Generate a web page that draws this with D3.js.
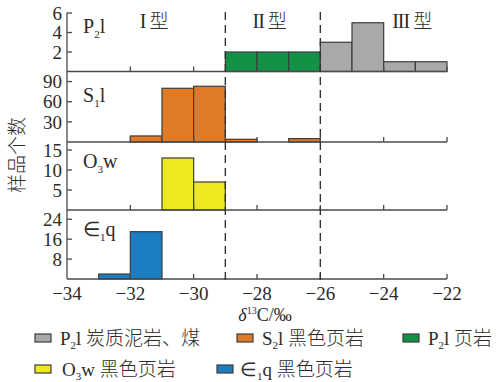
<!DOCTYPE html>
<html><head><meta charset="utf-8">
<script src="https://cdn.jsdelivr.net/npm/d3@7"></script>
<style>
body{margin:0;background:#fff}
svg{display:block}
text{fill:#2b2b2b}
.lat{font-family:"Liberation Serif","Times New Roman",serif}
.cjk{font-family:"Noto Sans CJK SC",sans-serif;font-weight:300}
</style>
</head><body>
<svg id="chart" width="499" height="382"></svg>
<script>
// δ13C bins (left edge, 1‰ wide) and sample counts per formation
const xTicks = [-34, -32, -30, -28, -26, -24, -22];
const typeBounds = [-29, -26];
const typeNumerals = ["I", "II", "III"];
const typeCenters = [-31.25, -27.6, -23.1];

const p2CoalBins = [-26, -25, -24, -23];
const p2CoalCounts = [3, 5, 1, 1];
const p2ShaleBins = [-29, -28, -27];
const p2ShaleCounts = [2, 2, 2];
const s1Bins = [-32, -31, -30, -29, -27];
const s1Counts = [9, 80, 83, 4, 5];
const o3Bins = [-31, -30];
const o3Counts = [13, 7];
const e1Bins = [-33, -32];
const e1Counts = [2, 19];

const colors = {coal:"#a9a9a9", s1:"#e07a27", p2shale:"#139146", o3:"#efe81c", e1:"#1b7dc2"};

const panels = [
  {lab:["P","2","l"], yMax:6, ticks:[2,4,6], top:13, bottom:71.5,
   series:[{bins:p2ShaleBins, counts:p2ShaleCounts, color:colors.p2shale},
           {bins:p2CoalBins, counts:p2CoalCounts, color:colors.coal}], labY:33},
  {lab:["S","1","l"], yMax:105, ticks:[30,60,90], top:71.5, bottom:142,
   series:[{bins:s1Bins, counts:s1Counts, color:colors.s1}], labY:102},
  {lab:["O","3","w"], yMax:17, ticks:[5,10,15], top:142, bottom:210,
   series:[{bins:o3Bins, counts:o3Counts, color:colors.o3}], labY:168},
  {lab:["∈","1","q"], yMax:27.7, ticks:[8,16,24], top:210, bottom:279,
   series:[{bins:e1Bins, counts:e1Counts, color:colors.e1}], labY:236}
];

const svg = d3.select("#chart");
const x = d3.scaleLinear().domain([-34, -22]).range([67, 447]);
const axisColor = "#4a4a4a";

panels.forEach(p => {
  const y = d3.scaleLinear().domain([0, p.yMax]).range([p.bottom, p.top]);
  const g = svg.append("g");
  p.series.forEach(s => {
    g.selectAll(null).data(s.bins.map((b, i) => ({b, c: s.counts[i]}))).enter()
      .append("rect")
      .attr("x", d => x(d.b)).attr("width", d => x(d.b + 1) - x(d.b))
      .attr("y", d => y(d.c)).attr("height", d => y(0) - y(d.c))
      .attr("fill", s.color).attr("stroke", "#3c3c3c").attr("stroke-width", 1.2);
  });
  // baseline with inward ticks
  g.append("line").attr("x1", x(-34)).attr("x2", x(-22))
    .attr("y1", p.bottom).attr("y2", p.bottom)
    .attr("stroke", axisColor).attr("stroke-width", 1.3);
  g.selectAll(null).data(xTicks.slice(1)).enter().append("line")
    .attr("x1", d => x(d)).attr("x2", d => x(d))
    .attr("y1", p.bottom).attr("y2", p.bottom - 5)
    .attr("stroke", axisColor).attr("stroke-width", 1.3);
  // y ticks
  g.selectAll(null).data(p.ticks).enter().append("line")
    .attr("x1", x(-34)).attr("x2", x(-34) + 5)
    .attr("y1", d => y(d)).attr("y2", d => y(d))
    .attr("stroke", axisColor).attr("stroke-width", 1.3);
  g.selectAll(null).data(p.ticks).enter().append("text")
    .attr("class", "lat").attr("x", 62).attr("y", d => y(d))
    .attr("dy", "0.35em").attr("text-anchor", "end")
    .attr("font-size", 19).text(d => d);
  // formation label
  const t = g.append("text").attr("class", "lat").attr("x", 83).attr("y", p.labY)
    .attr("font-size", 20);
  t.append("tspan").text(p.lab[0]);
  t.append("tspan").attr("font-size", 11).attr("dy", 5).text(p.lab[1]);
  t.append("tspan").attr("dy", -5).text(p.lab[2]);
});

// y axis line
svg.append("line").attr("x1", x(-34)).attr("x2", x(-34)).attr("y1", 13).attr("y2", 279)
  .attr("stroke", axisColor).attr("stroke-width", 1.3);

// type boundaries
svg.selectAll(null).data(typeBounds).enter().append("line")
  .attr("x1", d => x(d)).attr("x2", d => x(d)).attr("y1", 12).attr("y2", 280)
  .attr("stroke", "#333").attr("stroke-width", 1.4).attr("stroke-dasharray", "8,5");

// type labels: serif numeral + 型
typeNumerals.forEach((n, i) => {
  const t = svg.append("text").attr("class", "lat").attr("x", x(typeCenters[i])).attr("y", 28)
    .attr("text-anchor", "middle").attr("font-size", 20);
  t.append("tspan").attr("letter-spacing", "-1").text(n + " ");
  t.append("tspan").attr("class", "cjk").attr("font-size", 19).text("型");
});

// x tick labels
svg.selectAll(null).data(xTicks).enter().append("text")
  .attr("class", "lat").attr("x", d => x(d)).attr("y", 300)
  .attr("text-anchor", "middle").attr("font-size", 19)
  .text(d => "−" + Math.abs(d));

// x axis title
const xt = svg.append("text").attr("class", "lat").attr("x", 265).attr("y", 321)
  .attr("text-anchor", "middle").attr("font-size", 18);
xt.append("tspan").attr("font-style", "italic").text("δ");
xt.append("tspan").attr("font-size", 10).attr("dy", -7).text("13");
xt.append("tspan").attr("dy", 7).text("C/‰");

// y axis title
svg.append("text").attr("class", "cjk")
  .attr("transform", "translate(24,155) rotate(-90)")
  .attr("text-anchor", "middle").attr("font-size", 19).text("样品个数");

// legend
const legendItems = [
  {sym:["P","2","l"], name:"炭质泥岩、煤", color:colors.coal, sx:35, tx:60, row:0},
  {sym:["S","2","l"], name:"黑色页岩", color:colors.s1, sx:237, tx:262, row:0},
  {sym:["P","2","l"], name:"页岩", color:colors.p2shale, sx:403, tx:428, row:0},
  {sym:["O","3","w"], name:"黑色页岩", color:colors.o3, sx:35, tx:62, row:1},
  {sym:["∈","1","q"], name:"黑色页岩", color:colors.e1, sx:217, tx:240, row:1}
];
const rowY = [345, 376];
legendItems.forEach(it => {
  const yb = rowY[it.row];
  svg.append("rect").attr("x", it.sx).attr("y", yb - 11).attr("width", 16).attr("height", 8)
    .attr("fill", it.color).attr("stroke", "#3c3c3c").attr("stroke-width", 1.2);
  const t = svg.append("text").attr("class", "lat").attr("x", it.tx).attr("y", yb)
    .attr("font-size", 19);
  t.append("tspan").text(it.sym[0]);
  t.append("tspan").attr("font-size", 11).attr("dy", 4).text(it.sym[1]);
  t.append("tspan").attr("dy", -4).text(it.sym[2] + " ");
  t.append("tspan").attr("class", "cjk").text(it.name);
});
</script>
</body></html>
